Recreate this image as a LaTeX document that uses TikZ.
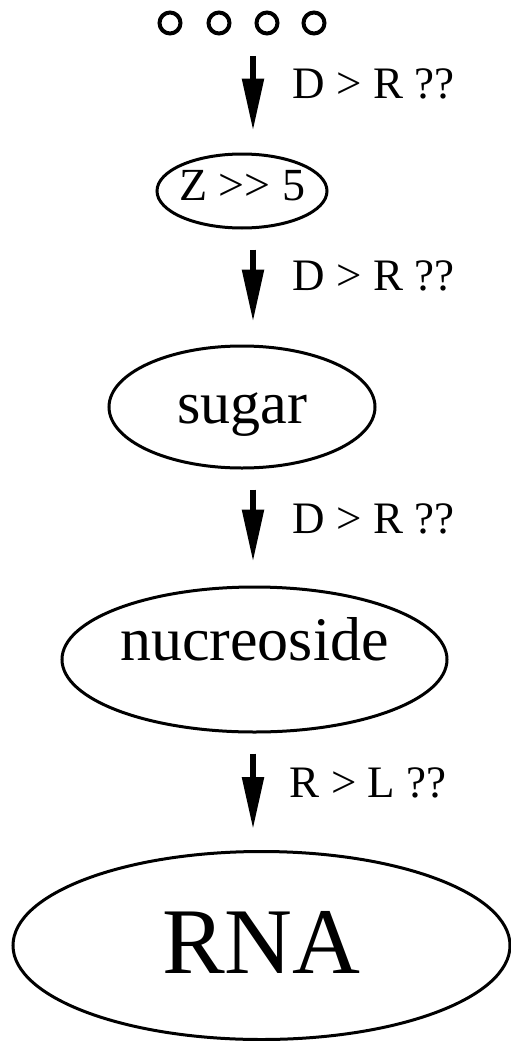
\documentclass[tikz,border=0pt]{standalone}
\usepackage{fontspec}
\setmainfont{Liberation Serif}
\usetikzlibrary{arrows.meta,shapes.geometric}
\begin{document}
\begin{tikzpicture}[x=1pt,y=-1pt,
  ell/.style={draw, ellipse, line width=3pt, inner ysep=0pt},
  arr/.style={line width=5.5pt, -{Triangle[length=52pt,width=21pt]}},
  lbl/.style={font=\fontsize{45}{50}\selectfont, anchor=base west, inner sep=0pt},
  dot/.style={draw, circle, line width=4pt, minimum size=21pt, inner sep=0pt}]
\useasboundingbox (0,0) rectangle (511,1041);
\node[dot] (c1) at (170,23) {};
\node[dot] (c2) at (219,23) {};
\node[dot] (c3) at (267,23) {};
\node[dot] (c4) at (314,23) {};
\coordinate (top) at (253,36);
\coordinate (ax) at (253,0);
\node[ell, minimum width=170pt, minimum height=74pt, inner xsep=-20pt,
  text height=18pt, text depth=0pt, font=\fontsize{46}{50}\selectfont]
  (z) at (242,191) {Z >{}> 5};
\node[ell, minimum width=266pt, minimum height=122pt, inner xsep=-30pt,
  text height=32pt, text depth=0pt, font=\fontsize{60}{66}\selectfont]
  (sugar) at (242,407) {sugar};
\node[ell, minimum width=385pt, minimum height=145pt, inner xsep=-60pt,
  text height=11pt, text depth=10pt, font=\fontsize{62}{68}\selectfont]
  (nuc) at (254.5,659.5) {nucreoside};
\node[ell, minimum width=497pt, minimum height=188pt, inner xsep=-40pt,
  text height=55pt, text depth=0pt, font=\fontsize{94}{100}\selectfont]
  (rna) at (261.5,945.5) {RNA};
\draw[arr, shorten <=20pt, shorten >=22pt] (top) -- (z.north -| ax)
  node[lbl, midway, xshift=37pt, yshift=-4pt] {D > R ??};
\draw[arr, shorten <=20pt, shorten >=23pt] (z.south -| ax) -- (sugar.north -| ax)
  node[lbl, midway, xshift=37pt, yshift=-3pt] {D > R ??};
\draw[arr, shorten <=20pt, shorten >=24pt] (sugar.south -| ax) -- (nuc.north -| ax)
  node[lbl, midway, xshift=37pt, yshift=-5.5pt] {D > R ??};
\draw[arr, shorten <=20pt, shorten >=21pt] (nuc.south -| ax) -- (rna.north -| ax)
  node[lbl, midway, xshift=34pt, yshift=-5.5pt] {R > L ??};
\end{tikzpicture}
\end{document}
